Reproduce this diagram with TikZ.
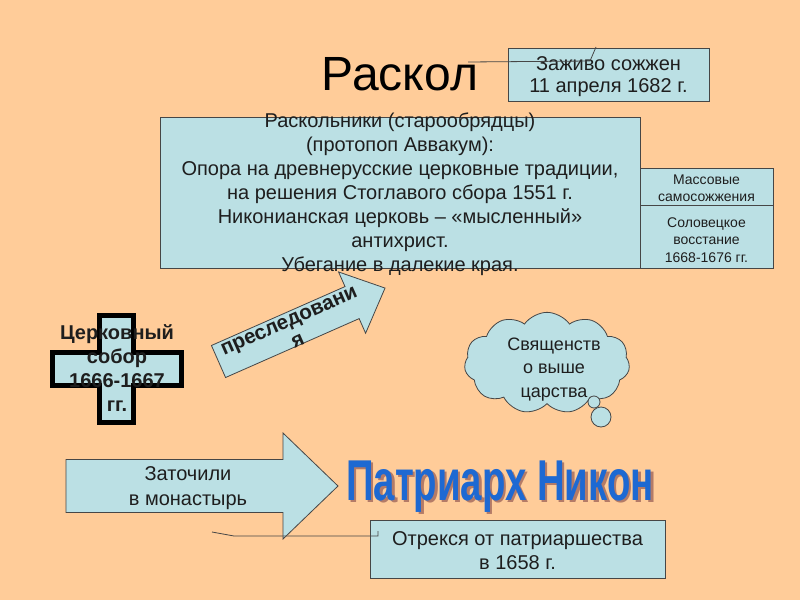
\documentclass[tikz,border=0pt]{standalone}
\usepackage{fontspec}
\setmainfont{Liberation Sans}
\usetikzlibrary{shapes.symbols}
\definecolor{bg}{RGB}{255,204,153}
\definecolor{boxc}{RGB}{187,224,228}
\definecolor{nik}{RGB}{30,105,210}
\definecolor{nikshadow}{RGB}{130,70,70}
\definecolor{edge}{RGB}{70,70,70}
\definecolor{ink}{RGB}{30,30,30}
\newcommand{\nikonword}{\fontsize{36}{40}\selectfont\bfseries\scalebox{0.8}[1.2]{Патриарх Никон}}
\begin{document}
\begin{tikzpicture}[x=0.75pt,y=-0.75pt,
  box/.style={draw=edge,fill=boxc,line width=0.6pt,inner sep=0pt,minimum width=#1},
  txt/.style={font=\fontsize{15}{18}\selectfont,align=center,text=ink,inner sep=0pt},
  smalltxt/.style={font=\fontsize{10.5}{12.5}\selectfont,align=center,text=ink,inner sep=0pt},
  boldtxt/.style={font=\fontsize{15}{18}\selectfont\bfseries,align=center,text=ink,inner sep=0pt},
  shapeline/.style={draw=edge,fill=boxc,line width=0.6pt},
  callout/.style={draw=edge,line width=0.6pt}
]
\fill[bg] (0,0) rectangle (800,600);
\useasboundingbox (0,0) rectangle (800,600);

% title
\node[font=\fontsize{36}{40}\selectfont,text=black,inner sep=0pt] (title) at (400,74) {Раскол};

% burned alive box
\node[box=150.75pt,minimum height=39.75pt] (zhivo) at (608.5,74.5) {};
\node[txt,font=\fontsize{15}{16.5}\selectfont] (zhivotext) at (608.5,77) {Заживо сожжен\\11 апреля 1682 г.};
\coordinate (zc1) at (468,62);
\coordinate (zc2) at (590,61);
\coordinate (zc3) at (596,47);
\draw[callout] (zc1) -- (zc2) -- (zc3);

% main box
\node[box=360pt,minimum height=113.25pt] (main) at (400,192.5) {};
\node[txt,font=\fontsize{15}{18}\selectfont] (maintext) at (400,194) {Раскольники (старообрядцы)\\(протопоп Аввакум):\\Опора на древнерусские церковные традиции,\\на решения Стоглавого сбора 1551 г.\\Никонианская церковь – «мысленный»\\антихрист.\\Убегание в далекие края.};

% side boxes
\node[box=99.75pt,minimum height=27.75pt] (mass) at (706.5,186.5) {};
\node[smalltxt] (masstext) at (706.5,188) {Массовые\\самосожжения};
\node[box=99.75pt,minimum height=47.25pt] (solov) at (706.5,236.5) {};
\node[smalltxt,font=\fontsize{10.5}{13}\selectfont] (solovtext) at (706.5,240) {Соловецкое\\восстание\\1668-1676 гг.};

% cross
\draw[fill=boxc,draw=black,line width=3.75pt,line join=miter]
  (99.5,315.5) -- (133.5,315.5) -- (133.5,352.5) -- (181.5,352.5) -- (181.5,385.5)
  -- (133.5,385.5) -- (133.5,422.5) -- (99.5,422.5) -- (99.5,385.5) -- (52.5,385.5)
  -- (52.5,352.5) -- (99.5,352.5) -- cycle;
\node[boldtxt] (sobor) at (117,368) {Церковный\\собор\\1666-1667\\гг.};

% persecution arrow
\begin{scope}[shift={(218.5,361.5)},rotate=23.8]
  \draw[shapeline] (0,-17.5) -- (146,-17.5) -- (146,-33.5) -- (182,0) -- (146,33.5) -- (146,17.5) -- (0,17.5) -- cycle;
\end{scope}
\node[boldtxt,font=\fontsize{15.5}{16.5}\selectfont\bfseries,rotate=23.8] (persec) at (293.5,331) {преследовани\\я};

% cloud
\node[cloud,cloud puffs=11,cloud puff arc=110,aspect=1.6,shapeline,minimum width=124pt,minimum height=76pt,inner sep=0pt] (cloud) at (547,363) {};
\node[txt,font=\fontsize{13.5}{17.5}\selectfont] (cloudtext) at (554,369.5) {Священств\\о выше\\царства};
\node[circle,shapeline,minimum size=9pt,inner sep=0pt] (bub1) at (594,402) {};
\node[circle,shapeline,minimum size=15pt,inner sep=0pt] (bub2) at (601,417) {};

% monastery arrow
\draw[shapeline] (66,459.5) -- (283,459.5) -- (283,433) -- (338,486) -- (283,539) -- (283,512.5) -- (66,512.5) -- cycle;
\node[txt,font=\fontsize{15}{18.75}\selectfont] (zatoch) at (188,488) {Заточили\\в монастырь};

% abdicated box
\node[box=221.25pt,minimum height=43.5pt] (otr) at (517.5,549) {};
\node[txt,font=\fontsize{15}{18}\selectfont] (otrtext) at (517.5,551) {Отрекся от патриаршества\\в 1658 г.};
\coordinate (oc1) at (212,532);
\coordinate (oc2) at (234,536);
\coordinate (oc3) at (378,536);
\coordinate (oc4) at (378,531);
\draw[callout] (oc1) -- (oc2) -- (oc3) -- (oc4);

% Patriarch Nikon (with soft shadow)
\begin{scope}[opacity=0.6]
\node[anchor=base,inner sep=0pt,text=nikshadow] (nikonshadow) at (502.5,502.5) {\nikonword};
\end{scope}
\node[anchor=base,inner sep=0pt,text=nik] (nikon) at (500,500) {\nikonword};
\end{tikzpicture}
\end{document}
